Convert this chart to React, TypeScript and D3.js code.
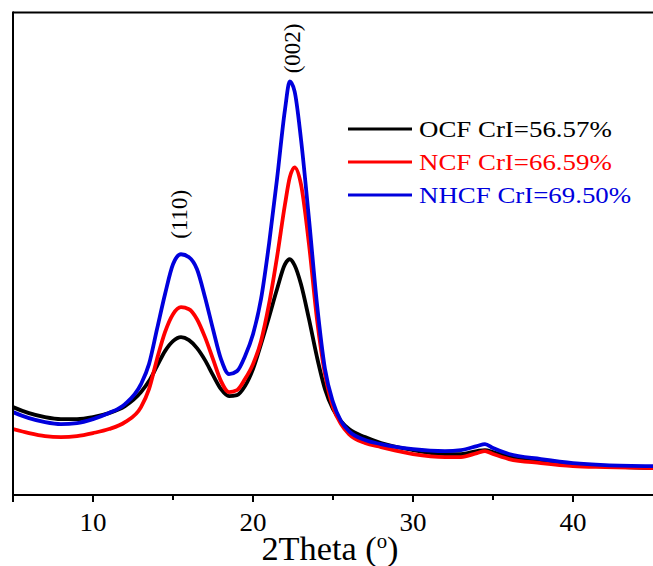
import React from "react";
import * as d3 from "d3";

const twoTheta = [5, 6, 7, 8, 9, 10, 11, 12, 13, 13.5, 14, 14.5, 15, 15.5, 16, 16.5, 17, 17.5, 18, 18.5, 19, 19.5, 20, 20.5, 21, 21.5, 22, 22.3, 22.6, 23, 23.5, 24, 24.5, 25, 25.5, 26, 27, 28, 30, 32, 33, 34, 34.5, 35, 36, 38, 40, 42, 45];

const ocf = [880, 820, 780, 760, 760, 780, 820, 890, 1030, 1140, 1290, 1440, 1540, 1580, 1550, 1470, 1350, 1200, 1060, 990, 1000, 1090, 1260, 1510, 1780, 2060, 2310, 2360, 2300, 2110, 1760, 1380, 1060, 860, 740, 660, 580, 520, 450, 410, 410, 440, 450, 430, 380, 340, 310, 290, 270];
const ncf = [660, 620, 590, 580, 590, 620, 660, 730, 880, 1060, 1360, 1630, 1810, 1880, 1860, 1760, 1580, 1360, 1140, 1030, 1050, 1160, 1310, 1540, 1910, 2380, 2910, 3180, 3280, 3110, 2510, 1760, 1210, 880, 710, 610, 520, 480, 410, 380, 380, 420, 440, 410, 360, 320, 290, 280, 270];
const nhcf = [830, 770, 730, 710, 720, 760, 820, 910, 1110, 1310, 1660, 2010, 2310, 2410, 2380, 2260, 1980, 1660, 1360, 1210, 1240, 1390, 1610, 1960, 2510, 3160, 3860, 4140, 4040, 3560, 2760, 1910, 1260, 930, 740, 640, 550, 510, 460, 440, 450, 490, 510, 470, 410, 360, 320, 300, 290];

const seriesNames = ["OCF CrI=56.57%", "NCF CrI=66.59%", "NHCF CrI=69.50%"];
const seriesColors = ["#000000", "#ff0000", "#0000dd"];
const seriesValues = [ocf, ncf, nhcf];

const majorTicks = [10, 20, 30, 40];
const minorTicks = [15, 25, 35];

const peakLabels = ["(110)", "(002)"];
const peakPositions = [15.5, 22.3];
const peakLabelHeights = [2810, 4470];

const W = 653;
const H = 566;
const left = 13;
const right = 653;
const top = 12.5;
const bottom = 495;

export default function App() {
  const x = d3.scaleLinear().domain([5, 45]).range([left, right]);
  const y = d3.scaleLinear().domain([0, 4830]).range([bottom, top]);
  const line = d3
    .line<[number, number]>()
    .x((d) => x(d[0]))
    .y((d) => y(d[1]))
    .curve(d3.curveMonotoneX);

  const font = "'Liberation Serif', 'Times New Roman', serif";

  return (
    <svg
      width={W}
      height={H}
      style={{ position: "absolute", left: 0, top: 0, background: "#fff" }}
      fontFamily={font}
    >
      <defs>
        <clipPath id="plot">
          <rect x={left} y={top} width={right - left} height={bottom - top} />
        </clipPath>
      </defs>
      <rect x={0} y={0} width={W} height={H} fill="#fff" />
      <g clipPath="url(#plot)">
        {seriesValues.map((vals, i) => (
          <path
            key={i}
            d={line(twoTheta.map((t, j) => [t, vals[j]] as [number, number])) || ""}
            fill="none"
            stroke={seriesColors[i]}
            strokeWidth={3.8}
            strokeLinejoin="round"
          />
        ))}
      </g>
      {/* axes */}
      <line x1={left} x2={right} y1={bottom} y2={bottom} stroke="#000" strokeWidth={2} />
      <line x1={left} x2={right} y1={top} y2={top} stroke="#000" strokeWidth={2} />
      <line x1={left} x2={left} y1={top - 1} y2={bottom + 1} stroke="#000" strokeWidth={2} />
      {majorTicks.map((t) => (
        <g key={"M" + t}>
          <line x1={x(t)} x2={x(t)} y1={bottom} y2={bottom + 7} stroke="#000" strokeWidth={2} />
          <text
            transform={`translate(${x(t)},531) scale(1.08,1)`}
            textAnchor="middle"
            fontSize={25}
            fill="#000"
          >
            {t}
          </text>
        </g>
      ))}
      {minorTicks.map((t) => (
        <line key={"m" + t} x1={x(t)} x2={x(t)} y1={bottom} y2={bottom + 5} stroke="#000" strokeWidth={2} />
      ))}
      <line x1={left} x2={left} y1={bottom} y2={bottom + 7} stroke="#000" strokeWidth={2} />
      <text
        transform={`translate(330,560) scale(1.04,1)`}
        textAnchor="middle"
        fontSize={33}
        fill="#000"
      >
        2Theta (<tspan fontSize={20} dy={-12}>o</tspan>
        <tspan dy={12}>)</tspan>
      </text>
      {/* peak labels */}
      {peakLabels.map((lab, i) => (
        <text
          key={lab}
          transform={`translate(${x(peakPositions[i]) + (i === 0 ? -2 : 3)},${y(peakLabelHeights[i])}) rotate(-90)`}
          textAnchor="middle"
          dominantBaseline="central"
          fontSize={23}
          fill="#000"
        >
          {lab}
        </text>
      ))}
      {/* legend */}
      {seriesNames.map((name, i) => {
        const baseY = 137 + i * 33;
        return (
          <g key={name}>
            <line x1={348} x2={412} y1={baseY - 8} y2={baseY - 8} stroke={seriesColors[i]} strokeWidth={3} />
            <text
              transform={`translate(419,${baseY}) scale(1.12,1)`}
              fontSize={24}
              fill={seriesColors[i]}
            >
              {name}
            </text>
          </g>
        );
      })}
    </svg>
  );
}
